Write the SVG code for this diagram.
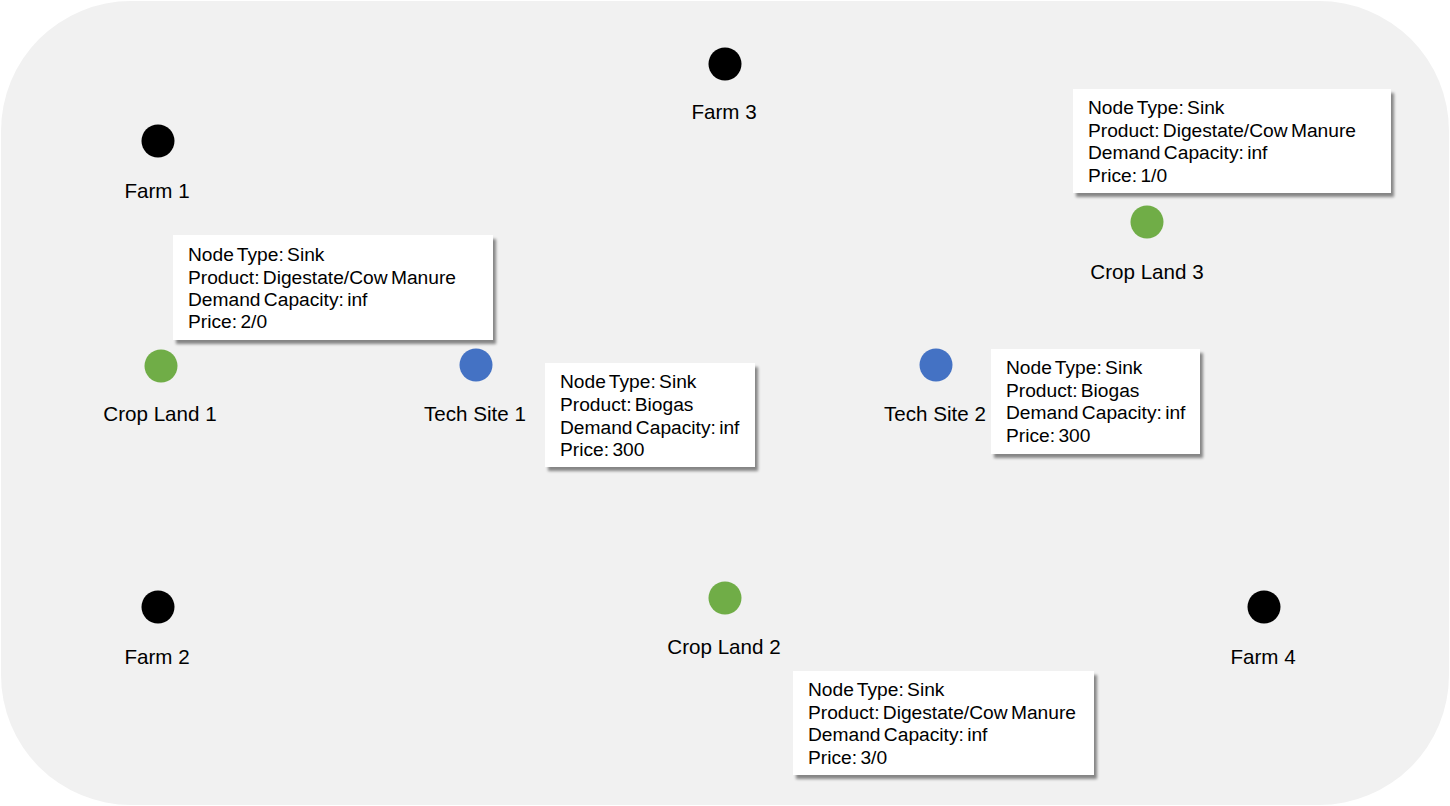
<svg xmlns="http://www.w3.org/2000/svg" width="1450" height="806" viewBox="0 0 1450 806">
<defs>
<filter id="sh" x="-10%" y="-10%" width="130%" height="140%">
<feGaussianBlur in="SourceAlpha" stdDeviation="1.5"/>
<feOffset dx="3" dy="4" result="b"/>
<feComponentTransfer><feFuncA type="linear" slope="0.45"/></feComponentTransfer>
<feMerge><feMergeNode/><feMergeNode in="SourceGraphic"/></feMerge>
</filter>
</defs>
<style>
.bg{fill:#f1f1f1}
.box{fill:#ffffff;filter:url(#sh)}
.bt{font-family:"Liberation Sans",Arial,sans-serif;font-size:19.2px;fill:#000;word-spacing:-2px}
.lb{font-family:"Liberation Sans",Arial,sans-serif;font-size:20.6px;fill:#000;text-anchor:middle}
.farm{fill:#000}
.crop{fill:#70ad47}
.tech{fill:#4472c4}
</style>
<rect class="bg" x="1" y="1" width="1448" height="804" rx="130" ry="130"/>
<g id="connectors"></g>
<g id="farm1"><circle class="farm" cx="158" cy="141" r="16.5"/><text class="lb" x="157" y="198">Farm 1</text></g>
<g id="farm2"><circle class="farm" cx="158" cy="607" r="16.5"/><text class="lb" x="157" y="664">Farm 2</text></g>
<g id="farm3"><circle class="farm" cx="725" cy="64" r="16.5"/><text class="lb" x="724" y="119">Farm 3</text></g>
<g id="farm4"><circle class="farm" cx="1264" cy="607" r="16.5"/><text class="lb" x="1263" y="664">Farm 4</text></g>
<g id="crop1"><circle class="crop" cx="161" cy="366" r="16.5"/><text class="lb" x="160" y="421">Crop Land 1</text>
<rect class="box" x="173" y="235" width="320" height="105"/>
<text class="bt" x="188" y="261">Node Type: Sink</text>
<text class="bt" x="188" y="284">Product: Digestate/Cow Manure</text>
<text class="bt" x="188" y="306">Demand Capacity: inf</text>
<text class="bt" x="188" y="328">Price: 2/0</text></g>
<g id="crop2"><circle class="crop" cx="725" cy="598" r="16.5"/><text class="lb" x="724" y="654">Crop Land 2</text>
<rect class="box" x="793" y="671" width="301" height="104"/>
<text class="bt" x="808" y="696">Node Type: Sink</text>
<text class="bt" x="808" y="719">Product: Digestate/Cow Manure</text>
<text class="bt" x="808" y="741">Demand Capacity: inf</text>
<text class="bt" x="808" y="764">Price: 3/0</text></g>
<g id="crop3"><circle class="crop" cx="1147" cy="222" r="16.5"/><text class="lb" x="1147" y="279">Crop Land 3</text>
<rect class="box" x="1073" y="89" width="318" height="104"/>
<text class="bt" x="1088" y="114">Node Type: Sink</text>
<text class="bt" x="1088" y="137">Product: Digestate/Cow Manure</text>
<text class="bt" x="1088" y="159">Demand Capacity: inf</text>
<text class="bt" x="1088" y="182">Price: 1/0</text></g>
<g id="tech1"><circle class="tech" cx="476" cy="365" r="16.5"/><text class="lb" x="475" y="421">Tech Site 1</text>
<rect class="box" x="545" y="363" width="210" height="104"/>
<text class="bt" x="560" y="388">Node Type: Sink</text>
<text class="bt" x="560" y="411">Product: Biogas</text>
<text class="bt" x="560" y="434">Demand Capacity: inf</text>
<text class="bt" x="560" y="456">Price: 300</text></g>
<g id="tech2"><circle class="tech" cx="936" cy="365" r="16.5"/><text class="lb" x="935" y="421">Tech Site 2</text>
<rect class="box" x="991" y="349" width="209" height="105"/>
<text class="bt" x="1006" y="374">Node Type: Sink</text>
<text class="bt" x="1006" y="397">Product: Biogas</text>
<text class="bt" x="1006" y="419">Demand Capacity: inf</text>
<text class="bt" x="1006" y="442">Price: 300</text></g>
</svg>
